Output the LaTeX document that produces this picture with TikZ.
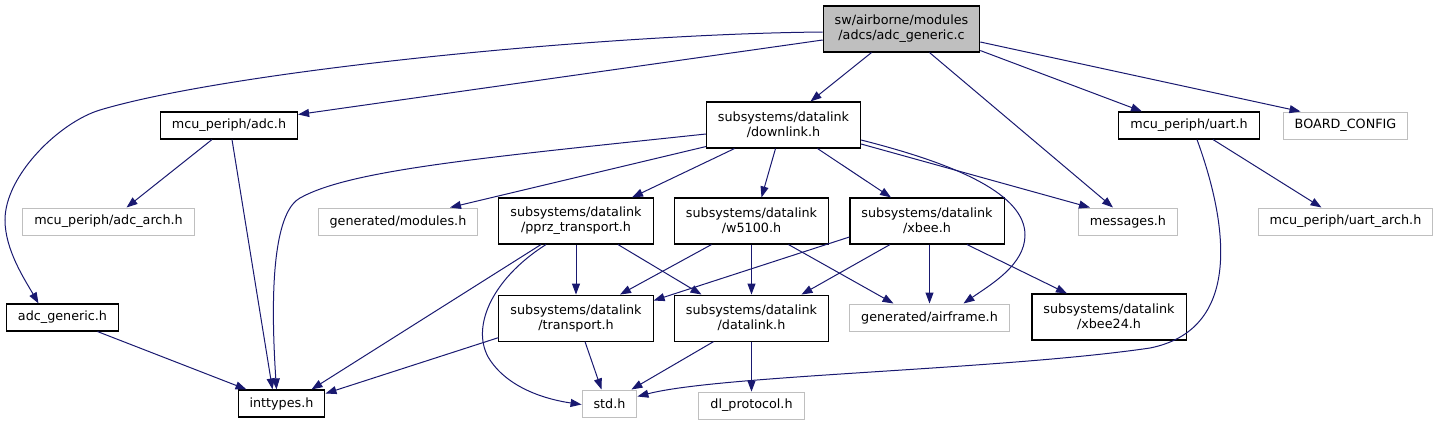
\documentclass[tikz,border=0pt]{standalone}
\usepackage{fontspec}
\setmainfont{DejaVu Sans}
\usepackage{xcolor}
\usetikzlibrary{arrows.meta,positioning}
\definecolor{edgeblue}{RGB}{25,25,112}
\definecolor{boxgrey}{RGB}{191,191,191}

\begin{document}
\begin{tikzpicture}[x=1pt, y=-1pt,
    hfile/.style={rectangle, draw=black, line width=1.1pt, fill=white,
        minimum height=27pt, inner xsep=11.5pt, inner ysep=2pt,
        font=\fontsize{12.75}{15}\selectfont, align=center},
    xfile/.style={hfile, draw=boxgrey, line width=1pt},
    cfile/.style={hfile, fill=boxgrey},
    two/.style={minimum height=46pt},
    arr/.style={-{Triangle[length=11pt, width=8pt]}, line width=1pt, edgeblue}
]
    \useasboundingbox (0,0) rectangle (1438,424);

    % Source file
    \node[cfile, two] (root) at (901.5,29) {sw/airborne/modules\\/adcs/adc\_generic.c};

    % Direct includes
    \node[hfile] (adch) at (229,125.5) {mcu\_periph/adc.h};
    \node[hfile, two] (downlink) at (783.5,125) {subsystems/datalink\\/downlink.h};
    \node[hfile] (uarth) at (1189,125.5) {mcu\_periph/uart.h};
    \node[xfile] (boardcfg) at (1345.5,125.5) {BOARD\_CONFIG};

    % Second level
    \node[xfile] (adcarch) at (108.5,221.5) {mcu\_periph/adc\_arch.h};
    \node[xfile] (genmod) at (398,221.5) {generated/modules.h};
    \node[hfile, two] (pprz) at (576,221) {subsystems/datalink\\/pprz\_transport.h};
    \node[hfile, two] (w5100) at (751.5,221) {subsystems/datalink\\/w5100.h};
    \node[hfile, two] (xbee) at (927,221) {subsystems/datalink\\/xbee.h};
    \node[xfile] (messages) at (1128,221.5) {messages.h};
    \node[xfile] (uartarch) at (1345.5,221.5) {mcu\_periph/uart\_arch.h};

    % Third level
    \node[hfile] (adcgen) at (62.5,317.5) {adc\_generic.h};
    \node[hfile, two, below=50pt of pprz] (transport) {subsystems/datalink\\/transport.h};
    \node[hfile, two, below=50pt of w5100] (datalink) {subsystems/datalink\\/datalink.h};
    \node[xfile] (airframe) at (929.5,317.5) {generated/airframe.h};
    \node[hfile, two] (xbee24) at (1109,317) {subsystems/datalink\\/xbee24.h};

    % Leaves
    \node[hfile] (inttypes) at (281.5,403.5) {inttypes.h};
    \node[xfile] (stdh) at (609.5,403.5) {std.h};
    \node[xfile, below=50pt of datalink] (dlproto) {dl\_protocol.h};

    % Edges from the source file
    \draw[arr] ([yshift=-3pt]root.west) .. controls (600,34) and (230,71) .. (100,110)
        .. controls (60,122) and (5,175) .. (5,220)
        .. controls (5,250) and (25,280) .. ([xshift=-24pt]adcgen.north);
    \draw[arr] ([yshift=-11pt]root.west) -- ([yshift=11pt]adch.east);
    \draw[arr] ([xshift=-30pt]root.south) -- ([xshift=27pt]downlink.north);
    \draw[arr] ([xshift=28pt]root.south) -- ([xshift=-15pt]messages.north);
    \draw[arr] ([yshift=2pt]root.south east) -- ([xshift=-47pt]uarth.north);
    \draw[arr] ([yshift=-13pt]root.east) -- ([xshift=-45pt]boardcfg.north);

    % mcu_periph/adc.h
    \draw[arr] ([xshift=-17pt]adch.south) -- ([xshift=18pt]adcarch.north);
    \draw[arr] ([xshift=3pt]adch.south) -- ([xshift=-9pt]inttypes.north);

    % downlink.h
    \draw[arr] ([yshift=-9pt]downlink.west) .. controls (480,158) and (350,170) .. (300,198)
        .. controls (280,209) and (268,260) .. ([xshift=-5pt]inttypes.north);
    \draw[arr] ([yshift=2pt]downlink.south west) -- ([xshift=52pt]genmod.north);
    \draw[arr] ([xshift=-49pt]downlink.south) -- ([xshift=56pt]pprz.north);
    \draw[arr] ([xshift=-8pt]downlink.south) -- ([xshift=10pt]w5100.north);
    \draw[arr] ([xshift=34pt]downlink.south) -- ([xshift=-36pt]xbee.north);
    \draw[arr] ([yshift=-19pt]downlink.east) -- ([xshift=-38pt]messages.north);
    \draw[arr] ([yshift=-15pt]downlink.east) .. controls (960,165) and (1025,195) .. (1025,235)
        .. controls (1025,265) and (990,285) .. ([xshift=34pt]airframe.north);

    % uart.h
    \draw[arr] ([xshift=24pt]uarth.south) -- ([xshift=-24pt]uartarch.north);
    \draw[arr] ([xshift=8pt]uarth.south) .. controls (1230,230) and (1240,330) .. (1150,348)
        .. controls (1000,370) and (720,375) .. ([yshift=7pt]stdh.east);

    % pprz_transport.h
    \draw[arr] (pprz) -- (transport);
    \draw[arr] ([xshift=42pt]pprz.south) -- ([xshift=-50pt]datalink.north);
    \draw[arr] ([xshift=-35pt]pprz.south) -- ([xshift=30pt]inttypes.north);
    \draw[arr] ([xshift=-30pt]pprz.south) .. controls (490,280) and (470,330) .. (490,360)
        .. controls (510,390) and (550,400) .. ([yshift=-1pt]stdh.west);

    % w5100.h
    \draw[arr] ([xshift=-40pt]w5100.south) -- ([xshift=44pt]transport.north);
    \draw[arr] (w5100) -- (datalink);
    \draw[arr] ([xshift=37pt]w5100.south) -- ([xshift=-36pt]airframe.north);

    % xbee.h
    \draw[arr] ([yshift=-16pt]xbee.west) -- ([yshift=-6pt]transport.north east);
    \draw[arr] ([xshift=-37pt]xbee.south) -- ([xshift=50pt]datalink.north);
    \draw[arr] ([xshift=2.5pt]xbee.south) -- (airframe.north);
    \draw[arr] ([xshift=40pt]xbee.south) -- ([xshift=-42pt]xbee24.north);

    % lower levels
    \draw[arr] ([yshift=4pt]transport.south west) -- ([yshift=10pt]inttypes.east);
    \draw[arr] ([xshift=9pt]transport.south) -- ([xshift=-8pt]stdh.north);
    \draw[arr] ([xshift=-38pt]datalink.south) -- ([xshift=-6pt]stdh.north east);
    \draw[arr] (datalink) -- (dlproto);
    \draw[arr] ([xshift=35pt]adcgen.south) -- ([xshift=-35pt]inttypes.north);
\end{tikzpicture}
\end{document}
